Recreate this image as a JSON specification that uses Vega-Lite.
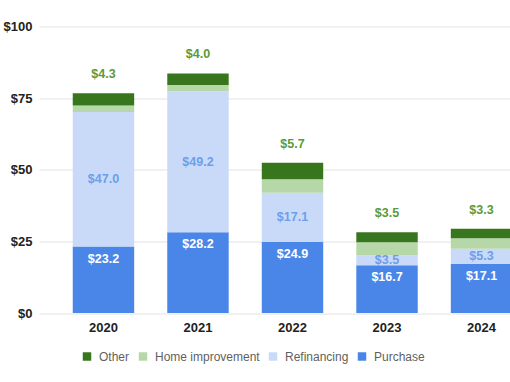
{
  "$schema": "https://vega.github.io/schema/vega-lite/v6.json",
  "autosize": {"type": "none"},
  "width": 471,
  "height": 286.5,
  "padding": {"left": 39, "top": 26.5, "right": 0, "bottom": 69},
  "background": "white",
  "config": {
    "view": {"stroke": null},
    "font": "Liberation Sans",
    "axis": {"labelFont": "Liberation Sans"},
    "legend": {"labelFont": "Liberation Sans"}
  },
  "data": {
    "values": [
      {"year": "2020", "Purchase": 23.2, "Refinancing": 47.0, "Home improvement": 2.2, "Other": 4.3},
      {"year": "2021", "Purchase": 28.2, "Refinancing": 49.2, "Home improvement": 2.2, "Other": 4.0},
      {"year": "2022", "Purchase": 24.9, "Refinancing": 17.1, "Home improvement": 4.7, "Other": 5.7},
      {"year": "2023", "Purchase": 16.7, "Refinancing": 3.5, "Home improvement": 4.5, "Other": 3.5},
      {"year": "2024", "Purchase": 17.1, "Refinancing": 5.3, "Home improvement": 3.7, "Other": 3.3}
    ]
  },
  "encoding": {
    "x": {
      "field": "year",
      "type": "nominal",
      "scale": {"range": [0, 507], "paddingInner": 0.35, "paddingOuter": 0.357},
      "axis": {
        "title": null,
        "domain": false,
        "ticks": false,
        "labelAngle": 0,
        "labelFontSize": 13,
        "labelFontWeight": "bold",
        "labelColor": "#222222",
        "labelPadding": 8
      }
    }
  },
  "layer": [
    {
      "transform": [
        {"fold": ["Purchase", "Refinancing", "Home improvement", "Other"], "as": ["series", "value"]},
        {"calculate": "indexof(['Purchase', 'Refinancing', 'Home improvement', 'Other'], datum.series)", "as": "stackRank"}
      ],
      "mark": {"type": "bar"},
      "encoding": {
        "y": {
          "field": "value",
          "type": "quantitative",
          "stack": "zero",
          "scale": {"domain": [0, 100]},
          "axis": {
            "title": null,
            "values": [0, 25, 50, 75, 100],
            "labelExpr": "'$' + datum.value",
            "domain": false,
            "ticks": false,
            "gridColor": "#e2e2e2",
            "labelFontSize": 13,
            "labelFontWeight": "bold",
            "labelColor": "#222222",
            "labelPadding": 7
          }
        },
        "order": {"field": "stackRank", "type": "quantitative", "sort": "ascending"},
        "color": {
          "field": "series",
          "type": "nominal",
          "scale": {
            "domain": ["Other", "Home improvement", "Refinancing", "Purchase"],
            "range": ["#38761d", "#b6d7a8", "#c9daf8", "#4a86e8"]
          },
          "legend": {
            "title": null,
            "orient": "none",
            "direction": "horizontal",
            "legendX": 42,
            "legendY": 324,
            "symbolType": "square",
            "symbolSize": 72,
            "symbolStrokeWidth": 0,
            "labelFontSize": 12,
            "labelColor": "#5f5f5f",
            "labelOffset": 6,
            "columnPadding": 7
          }
        }
      }
    },
    {
      "mark": {"type": "rule", "color": "#aaaaaa", "strokeWidth": 2},
      "encoding": {"y": {"datum": 0, "type": "quantitative"}}
    },
    {
      "mark": {"type": "text", "baseline": "middle", "dy": 12, "color": "white", "fontWeight": "bold", "fontSize": 12.5},
      "encoding": {
        "y": {"field": "Purchase", "type": "quantitative"},
        "text": {"field": "Purchase", "type": "quantitative", "format": "$.1f"}
      }
    },
    {
      "transform": [
        {"calculate": "datum.Purchase + datum.Refinancing / 2", "as": "refMid"}
      ],
      "mark": {"type": "text", "baseline": "middle", "color": "#6d9eeb", "fontWeight": "bold", "fontSize": 12.5},
      "encoding": {
        "y": {"field": "refMid", "type": "quantitative"},
        "text": {"field": "Refinancing", "type": "quantitative", "format": "$.1f"}
      }
    },
    {
      "transform": [
        {"calculate": "datum.Purchase + datum.Refinancing + datum['Home improvement'] + datum.Other", "as": "total"}
      ],
      "mark": {"type": "text", "baseline": "middle", "dy": -19, "color": "#5a9a3a", "fontWeight": "bold", "fontSize": 12.5},
      "encoding": {
        "y": {"field": "total", "type": "quantitative"},
        "text": {"field": "Other", "type": "quantitative", "format": "$.1f"}
      }
    }
  ]
}
